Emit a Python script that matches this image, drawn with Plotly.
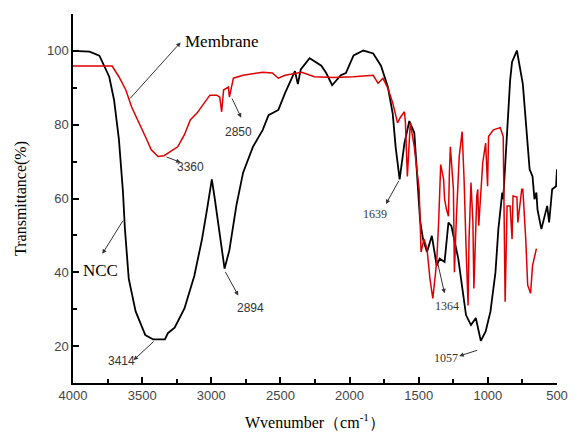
import plotly.graph_objects as go

# NCC spectrum (wavenumber cm-1, transmittance %)
ncc_wn = [4000, 3950, 3880, 3809, 3738, 3703, 3668, 3639, 3625, 3597, 3547, 3477, 3420,
          3335, 3314, 3265, 3194, 3123, 3067, 3031, 2996, 2975, 2961, 2904, 2869, 2819,
          2770, 2699, 2628, 2586, 2515, 2466, 2395, 2374, 2353, 2289, 2204, 2169, 2126,
          2063, 2027, 1971, 1900, 1829, 1773, 1723, 1688, 1667, 1638, 1603, 1568, 1532,
          1511, 1490, 1469, 1440, 1405, 1370, 1348, 1313, 1285, 1264, 1214, 1179, 1158,
          1122, 1087, 1051, 1016, 981, 945, 924, 896, 889, 861, 839, 825, 790, 747, 719,
          698, 677, 663, 649, 641, 613, 592, 571, 557, 535, 507, 500]
ncc_t = [100, 100, 99.8, 98.7, 93, 86.7, 76, 62, 52, 38.3, 29.4, 23, 21.8,
         21.8, 23.5, 25, 30.2, 39, 49, 57, 65.2, 60, 56, 41, 46, 58,
         67, 74, 78.6, 82.6, 84, 88.6, 94.5, 91, 95, 98, 96, 94, 90.7,
         93.4, 94, 98.8, 100.1, 99.3, 96, 90.2, 83, 74, 65.2, 75, 81, 77.8,
         66, 54, 49, 45.5, 49.9, 41.8, 43.7, 42.8, 53.5, 52.6, 43.7, 34.8, 28.4,
         25.7, 27.6, 21.4, 24, 29.4, 40, 51.7, 61.6, 59.8, 78.6, 92, 97, 100.1, 91, 77.8,
         67.9, 66, 59.8, 61.6, 57, 51.7, 55.2, 58, 53.5, 62.5, 63.3, 67.9]

# Membrane spectrum
mem_wn = [4000, 3717, 3668, 3618, 3576, 3526, 3477, 3434, 3385, 3342, 3293, 3243, 3194,
          3152, 3102, 3053, 3010, 2961, 2939, 2925, 2911, 2876, 2869, 2855, 2840, 2770,
          2678, 2628, 2558, 2515, 2466, 2346, 2254, 2112, 1971, 1829, 1794, 1759, 1723,
          1688, 1653, 1631, 1603, 1596, 1582, 1561, 1532, 1497, 1483, 1462, 1440, 1419,
          1398, 1370, 1356, 1341, 1320, 1313, 1299, 1285, 1278, 1271, 1249, 1242, 1228,
          1207, 1186, 1172, 1158, 1143, 1136, 1122, 1108, 1101, 1080, 1073, 1066, 1037,
          1016, 1002, 995, 960, 910, 889, 875, 861, 839, 825, 818, 790, 783, 755, 747,
          726, 712, 691, 677, 649]
mem_t = [95.9, 95.9, 93, 89.4, 84.8, 80.5, 76.8, 73.2, 71.4, 71.6, 72.7, 74, 77.3,
         81.3, 83.2, 85.9, 88, 88, 87.5, 83.5, 89.4, 90.2, 87.5, 90, 92.6, 93.4,
         94, 94.2, 94, 92.6, 93.4, 94.2, 93, 92.8, 93, 93.4, 91.2, 92.6, 89.9,
         85.9, 80.5, 82.1, 83.5, 80.5, 66, 80.5, 74, 62.5, 45.5, 49, 46.4, 38.3,
         32.9, 42.8, 53.5, 69.2, 65.2, 59.8, 57, 55.2, 67, 74, 62.5, 40, 54.4,
         71.4, 78.1, 65.2, 47.2, 31, 49, 64.3, 53.5, 35.6, 60.7, 62.5, 52.6, 69.7,
         75, 63.3, 76.8, 78.6, 79.2, 76.8, 32, 58, 58, 49, 60.7, 60.4, 53.5, 62.5, 62.5,
         49, 36.5, 34.3, 41.8, 46.4]

# peak labels: text, text pos, arrow tail, arrow head
peaks = [
    ("3414", 3650, 16, 3406, 21.6, 3562, 16.2),
    ("3360", 3150, 68.5, 3335, 71.4, 3222, 69.8),
    ("2850", 2805, 78, 2855, 87.5, 2784, 81.9),
    ("2894", 2720, 30.2, 2904, 40.5, 2805, 33.7),
    ("1639", 1815, 55.8, 1638, 65.2, 1737, 58.5),
    ("1364", 1292, 30.8, 1370, 43.7, 1313, 34.3),
    ("1057", 1300, 16.8, 1066, 19, 1207, 17.3),
]
serif_labels = {"1639", "1364", "1057"}

fig = go.Figure()
fig.add_trace(go.Scatter(x=ncc_wn, y=ncc_t, mode="lines",
                         line=dict(color="black", width=1.8), showlegend=False))
fig.add_trace(go.Scatter(x=mem_wn, y=mem_t, mode="lines",
                         line=dict(color="#dd0000", width=1.5), showlegend=False))

anns = []
for txt, tx, ty, x0, y0, x1, y1 in peaks:
    anns.append(dict(x=x1, y=y1, ax=x0, ay=y0, xref="x", yref="y", axref="x", ayref="y",
                     text="", showarrow=True, arrowhead=2, arrowsize=0.9,
                     arrowwidth=1, arrowcolor="#333"))
    fam = "Liberation Serif" if txt in serif_labels else "Liberation Sans"
    anns.append(dict(x=tx, y=ty, xref="x", yref="y", text=txt, showarrow=False,
                     font=dict(family=fam, size=12, color="#333")))

# series labels
anns.append(dict(x=3222, y=102.3, ax=3597, ay=86.7, xref="x", yref="y", axref="x", ayref="y",
                 text="", showarrow=True, arrowhead=2, arrowsize=0.9, arrowwidth=1,
                 arrowcolor="#333"))
anns.append(dict(x=3205, y=102.5, xref="x", yref="y", text="Membrane", showarrow=False,
                 xanchor="left", font=dict(family="Liberation Serif", size=17, color="black")))
anns.append(dict(x=3788, y=45, ax=3632, ay=54.4, xref="x", yref="y", axref="x", ayref="y",
                 text="", showarrow=True, arrowhead=2, arrowsize=0.9, arrowwidth=1,
                 arrowcolor="#333"))
anns.append(dict(x=3940, y=40.5, xref="x", yref="y", text="NCC", showarrow=False,
                 xanchor="left", font=dict(family="Liberation Serif", size=17, color="black")))

fig.update_layout(
    width=579, height=440,
    margin=dict(l=73, r=11, t=14, b=54),
    paper_bgcolor="white", plot_bgcolor="white",
    annotations=anns,
    font=dict(family="Liberation Sans", size=13, color="#444"),
)
fig.update_xaxes(
    range=[4000, 500], dtick=500, showgrid=False, zeroline=False,
    showline=True, linecolor="black", linewidth=1.5,
    ticks="inside", ticklen=6, tickwidth=1.5, tickcolor="black",
    minor=dict(ticks="inside", ticklen=4, tickwidth=1.5, tickcolor="black", dtick=250),
    title=dict(text="Wvenumber（cm<sup>-1</sup>）", standoff=14,
               font=dict(family="Liberation Serif", size=16, color="black")),
)
fig.update_yaxes(
    range=[10, 110], dtick=20, showgrid=False, zeroline=False,
    showline=True, linecolor="black", linewidth=1.5,
    ticks="inside", ticklen=6, tickwidth=1.5, tickcolor="black",
    minor=dict(ticks="inside", ticklen=4, tickwidth=1.5, tickcolor="black", dtick=10),
    title=dict(text="Transmittance(%)", standoff=16,
               font=dict(family="Liberation Serif", size=16, color="black")),
)

# drop the page's default body margin so the figure sits at the window's corner
fig.write_html("out.html", config={"displayModeBar": False},
               post_script="document.body.style.margin='0';")
